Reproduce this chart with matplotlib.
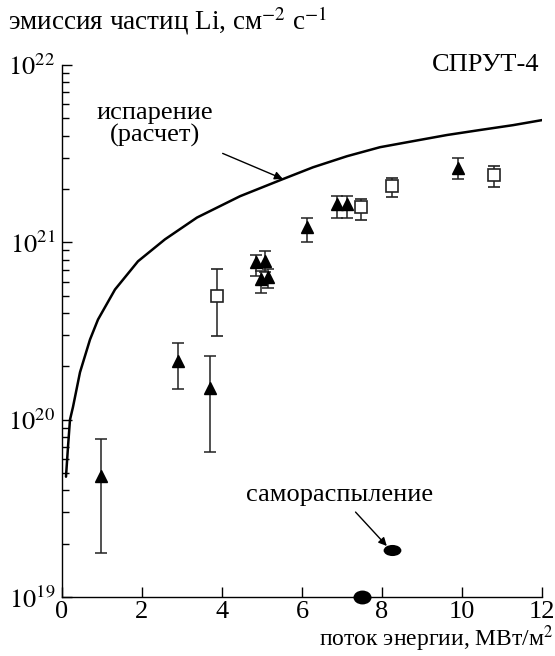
import numpy as np
import matplotlib
matplotlib.use("Agg")
import matplotlib.pyplot as plt
from matplotlib.markers import MarkerStyle
from matplotlib.transforms import Affine2D

plt.rcParams['font.family'] = ['Liberation Serif', 'DejaVu Serif']
plt.rcParams['mathtext.fontset'] = 'stix'

# calculated evaporation curve
curve_x = [0.10, 0.15, 0.20, 0.275, 0.45, 0.70, 0.90, 1.325, 1.90, 2.575, 3.375,
           4.45, 5.45, 6.275, 7.125, 7.95, 8.775, 9.625, 10.45, 11.275, 12.0]
curve_y = [4.77e19, 7.03e19, 1.0e20, 1.18e20, 1.85e20, 2.83e20, 3.67e20, 5.42e20,
           7.82e20, 1.04e21, 1.38e21, 1.82e21, 2.24e21, 2.65e21, 3.06e21, 3.44e21,
           3.72e21, 4.03e21, 4.30e21, 4.58e21, 4.89e21]

# triangles
tri_x = [0.975, 2.9, 3.7, 4.85, 5.07, 4.97, 5.15, 6.12, 6.88, 7.12, 9.9]
tri_y = [4.8e19, 2.14e20, 1.5e20, 7.7e20, 7.9e20, 6.2e20, 6.4e20, 1.22e21, 1.64e21, 1.64e21, 2.63e21]
tri_hi = [7.8e19, 2.72e20, 2.3e20, 8.5e20, 8.9e20, 6.9e20, 7.1e20, 1.37e21, 1.82e21, 1.82e21, 3.0e21]
tri_lo = [1.77e19, 1.48e20, 6.6e19, 6.5e20, 6.8e20, 5.2e20, 5.5e20, 1.01e21, 1.37e21, 1.37e21, 2.27e21]

# squares
sq_x = [3.875, 7.47, 8.25, 10.8]
sq_y = [5.0e20, 1.58e21, 2.07e21, 2.4e21]
sq_hi = [7.1e20, 1.75e21, 2.3e21, 2.7e21]
sq_lo = [2.95e20, 1.33e21, 1.81e21, 2.05e21]

# self-sputtering dots
ell_x = [7.5, 8.25]
ell_y = [1.0e19, 1.84e19]

fig = plt.figure(figsize=(5.55, 6.56), dpi=100)
ax = fig.add_axes([0.1117, 0.0899, 0.8649, 0.811])

ax.plot(curve_x, curve_y, color='black', lw=1.8, solid_capstyle='round')

tri_err = [np.array(tri_y) - np.array(tri_lo), np.array(tri_hi) - np.array(tri_y)]
ax.errorbar(tri_x, tri_y, yerr=tri_err, fmt='^', color='#222222', mfc='black', mec='black',
            ms=9, elinewidth=1.1, capsize=4, capthick=1.1)
sq_err = [np.array(sq_y) - np.array(sq_lo), np.array(sq_hi) - np.array(sq_y)]
ax.errorbar(sq_x, sq_y, yerr=sq_err, fmt='s', color='#222222', mfc='white', mec='#222222',
            ms=8, mew=1.2, elinewidth=1.1, capsize=4, capthick=1.1, zorder=3)

ax.set_yscale('log')
ax.set_xlim(0, 12)
ax.set_ylim(1e19, 1e22)

# flattened dots
for ex, ey, sx, size in zip(ell_x, ell_y, [1.3, 1.6], [10, 8]):
    m = MarkerStyle('o', transform=Affine2D().scale(sx, 1.0))
    ax.plot(ex, ey, marker=m, color='black', ms=size, mew=0, clip_on=False, zorder=5)

ax.spines['top'].set_visible(False)
ax.spines['right'].set_visible(False)
ax.spines['left'].set_linewidth(1.0)
ax.spines['bottom'].set_linewidth(1.0)

ax.set_xticks([0, 2, 4, 6, 8, 10, 12])
ax.tick_params(axis='both', which='major', direction='in', length=7, width=1.0,
               labelsize=19)
ax.tick_params(axis='x', which='major', pad=3)
ax.tick_params(axis='y', which='major', pad=5)
ax.tick_params(axis='y', which='minor', direction='in', length=5, width=1.0)
ax.set_yticks([1e19, 1e20, 1e21, 1e22])
ax.set_yticklabels([r'$10^{19}$', r'$10^{20}$', r'$10^{21}$', r'$10^{22}$'])

fig.text(0.014, 0.968, r'эмиссия частиц Li, см$^{-2}$ с$^{-1}$', fontsize=19.5, va='center')
fig.text(0.997, 0.003, r'поток энергии, МВт/м$^2$', fontsize=17, ha='right', va='bottom')
ax.text(0.994, 1.0, 'СПРУТ-4', transform=ax.transAxes, fontsize=19, ha='right', va='center')

ax.annotate('испарение\n(расчет)', xy=(5.52, 2.28e21), xytext=(2.33, 4.6e21),
            fontsize=19, ha='center', va='center', linespacing=1.0,
            arrowprops=dict(arrowstyle='-|>', color='black', lw=1.0, mutation_scale=12,
                            shrinkA=6, shrinkB=0))
ax.annotate('самораспыление', xy=(8.12, 1.94e19), xytext=(6.95, 3.75e19),
            fontsize=19, ha='center', va='center',
            arrowprops=dict(arrowstyle='-|>', color='black', lw=1.0, mutation_scale=12,
                            shrinkA=3, shrinkB=0))

fig.savefig('out.png', dpi=100)
